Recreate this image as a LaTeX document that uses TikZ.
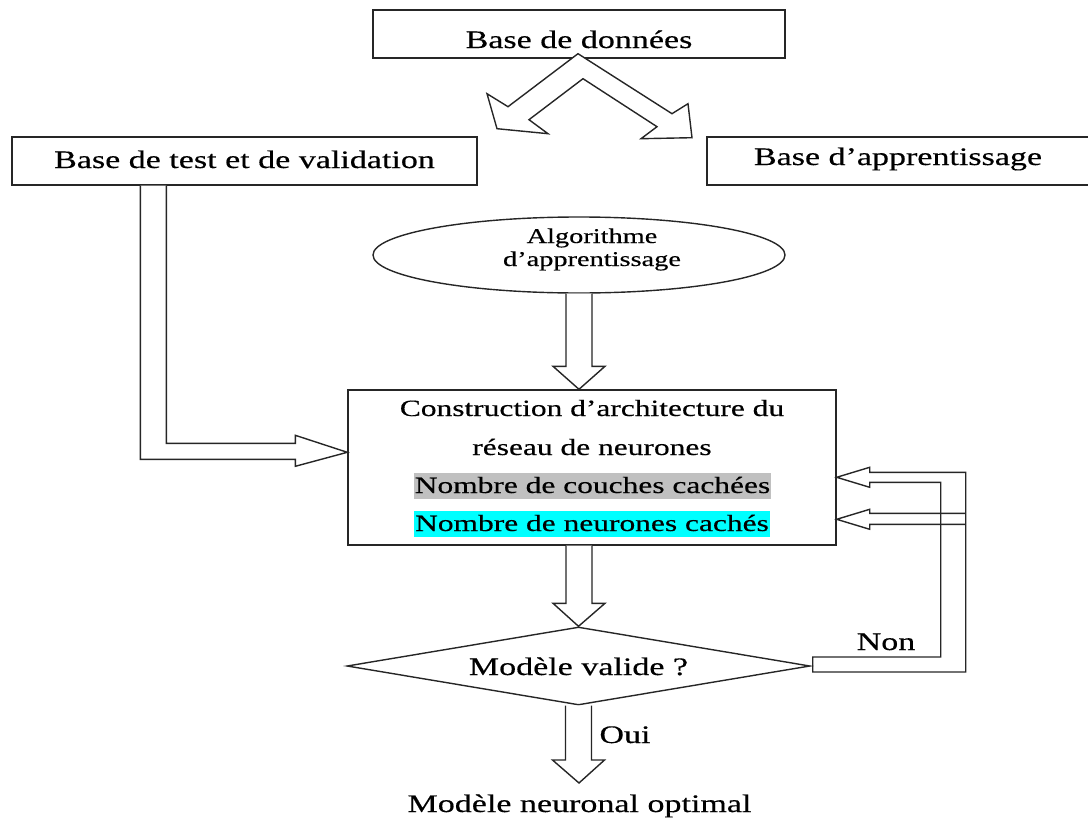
\documentclass[tikz,border=0pt]{standalone}
\usepackage{fontspec}
\setmainfont{Liberation Serif}[FakeStretch=1.35,UprightFeatures={FakeBold=0.4}]
\usetikzlibrary{shapes.geometric,calc}
\definecolor{hidgray}{HTML}{C0C0C0}
\definecolor{hidcyan}{HTML}{00FFFF}
\tikzset{
  outline/.style={draw=black!85, line width=1.4pt},
  box/.style={outline, rectangle, inner sep=0pt, minimum height=48pt},
  blk/.style={outline, fill=white, line join=miter},
  hollow/.style={outline, line join=miter},
  big/.style={font=\fontsize{25.2}{30}\selectfont},
  mid/.style={font=\fontsize{23.3}{28}\selectfont},
  small/.style={font=\fontsize{21}{23}\selectfont},
}
% vertical block arrow: shaft starts at #1, tip lands on #2
\newcommand\blockdown[2]{%
  \draw[blk] let \p1=(#1), \p2=(#2) in
    (\x1-13pt,\y1) -- (\x1-13pt,\y2+23pt) -- (\x1-26pt,\y2+23pt) -- (\x2,\y2)
    -- (\x1+26pt,\y2+23pt) -- (\x1+13pt,\y2+23pt) -- (\x1+13pt,\y1);}
\begin{document}
\begin{tikzpicture}[x=1pt,y=-1pt]
\useasboundingbox (0,0) rectangle (1088,819);
\clip (0,0) rectangle (1088,819);

% data sources
\node[box, big, minimum width=412pt, text height=28pt, text depth=0pt] (db) at (579,34) {Base de données};
\node[box, big, minimum width=465pt, text height=14pt, text depth=0pt] (test) at (244.5,161) {Base de test et de validation};
\node[box, big, minimum width=382pt, text height=8pt, text depth=0pt] (learn) at (898,161) {Base d’apprentissage};

% learning algorithm
\node[outline, ellipse, minimum width=412pt, minimum height=76pt, inner sep=0pt] (algo) at (579,255) {};
\node[small, anchor=base] (algo1) at (592,243) {Algorithme};
\node[small, anchor=base] (algo2) at (592,266) {d’apprentissage};

% architecture box
\node[outline, rectangle, minimum width=488pt, minimum height=155pt, inner sep=0pt] (cons) at (592,467.5) {};
\node[mid, anchor=base] (c1) at (592,416) {Construction d’architecture du};
\node[mid, anchor=base] (c2) at (592,455) {réseau de neurones};
\node[mid, fill=hidgray, minimum width=357pt, minimum height=26pt, inner sep=0pt, text height=20pt, text depth=6pt] (c3) at (592.5,486) {Nombre de couches cachées};
\node[mid, fill=hidcyan, minimum width=356pt, minimum height=26pt, inner sep=0pt, text height=20pt, text depth=6pt] (c4) at (592,524) {Nombre de neurones cachés};

% decision
\node[outline, diamond, aspect=6, minimum width=463pt, minimum height=78pt, inner sep=0pt, big, text height=18pt, text depth=0pt] (valid) at (578.5,666) {Modèle valide ?};

% result
\coordinate (outtip) at (579,783);
\node[big, anchor=base] (final) at (579.5,812) {Modèle neuronal optimal};
\node[big, anchor=base] (non) at (886,650) {Non};
\node[big, anchor=base] (oui) at (625,743) {Oui};

% split of the data base
\draw[blk, shift={(db.south)}]
  (-1,-5) -- (-71,48) -- (-92,35) -- (-82,70) -- (-31,75) -- (-50,61) -- (4,20)
  -- (78,68) -- (62,80) -- (113,79) -- (109,45) -- (93,55) -- cycle;

% test base into the architecture
\draw[blk] let \p1=(test.south west), \p2=($(cons.north west)+(0,63)$) in
  (\x1+129pt,\y1) -- (\x1+129pt,\y2-7pt) -- (\x2-52pt,\y2-7pt) -- (\x2-52pt,\y2-14pt)
  -- (\p2) -- (\x2-52pt,\y2+17pt) -- (\x2-52pt,\y2+9pt) -- (\x1+155pt,\y2+9pt) -- (\x1+155pt,\y1);

% main flow
\blockdown{algo.south}{algo.south |- cons.north}
\blockdown{algo.south |- cons.south}{valid.north}
\blockdown{valid.south}{outtip}

% "Non" feedback loop
\draw[hollow] let \p1=(valid.east), \p2=($(cons.north east)+(0,88)$) in
  (\x1+2pt,\y1+9pt) -- (\x1+2pt,\y1-6pt) -- (\x1+155pt,\y1-6pt) -- (\x1+155pt,\y2+5pt)
  -- (\x2+33pt,\y2+5pt) -- (\x2+33pt,\y2+10pt) -- (\p2) -- (\x2+33pt,\y2-10pt)
  -- (\x2+33pt,\y2-5pt) -- (\x1+130pt,\y2-5pt) -- (\x1+130pt,\y1+9pt) -- cycle;
\draw[hollow] let \p1=(valid.east), \p2=($(cons.north east)+(0,130)$) in
  (\x1+155pt,\y2+6pt) -- (\x2+33pt,\y2+6pt) -- (\x2+33pt,\y2+10pt) -- (\p2)
  -- (\x2+33pt,\y2-10pt) -- (\x2+33pt,\y2-5pt) -- (\x1+155pt,\y2-5pt);
\end{tikzpicture}
\end{document}
